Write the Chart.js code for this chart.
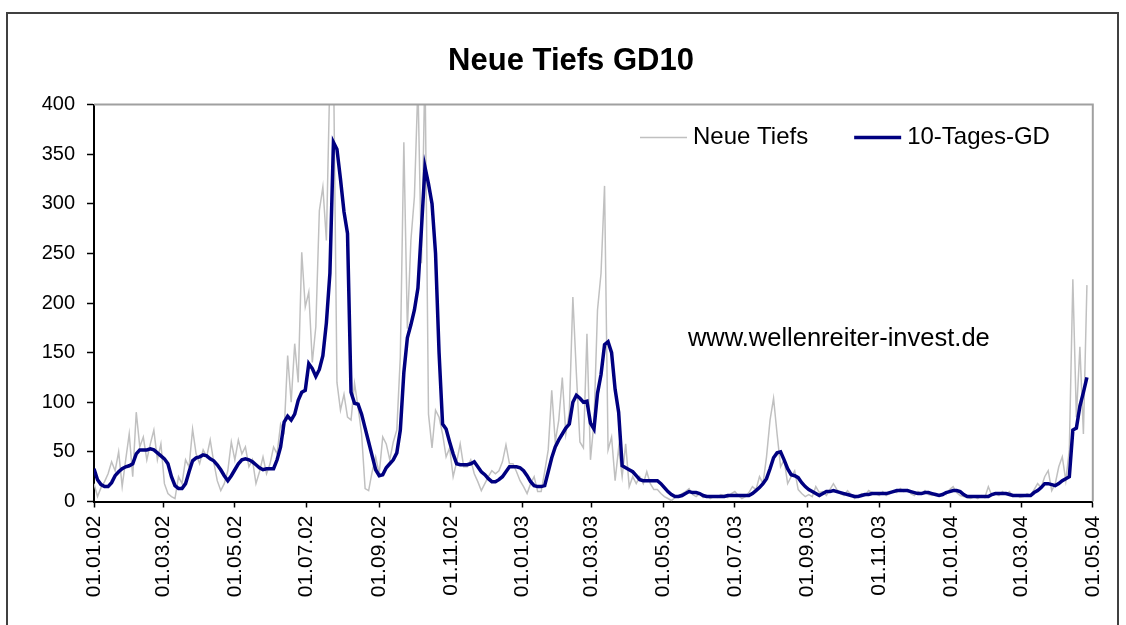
<!DOCTYPE html>
<html>
<head>
<meta charset="utf-8">
<script src="https://cdn.jsdelivr.net/npm/chart.js@4.4.1/dist/chart.umd.min.js"></script>
<style>
  html, body { margin: 0; padding: 0; background: #fff; overflow: hidden; }
  .frame { position: absolute; left: 6px; top: 12px; width: 1109px; height: 700px; border: 2px solid #404040; }
  #chart { position: absolute; left: 0; top: 0; }
</style>
</head>
<body>
<div class="frame"></div>
<canvas id="chart" width="1126" height="625"></canvas>
<script>
// x axis labels (dd.mm.yy), one every two months
const tickLabels = ['01.01.02', '01.03.02', '01.05.02', '01.07.02', '01.09.02', '01.11.02', '01.01.03',
  '01.03.03', '01.05.03', '01.07.03', '01.09.03', '01.11.03', '01.01.04', '01.03.04', '01.05.04'];

// values read every 3 days from 01.01.02
const stepDays = 3;

// Neue Tiefs (daily new lows)
const newLows = [
  18, 5, 14, 20, 28, 40, 31, 50, 15, 42,
  68, 25, 90, 55, 65, 42, 58, 72, 42, 58,
  18, 8, 5, 3, 25, 18, 42, 35, 73, 48,
  38, 52, 45, 62, 40, 21, 11, 18, 31, 60,
  42, 62, 48, 55, 35, 42, 18, 30, 45, 28,
  38, 55, 48, 78, 70, 147, 100, 159, 120, 251,
  196, 211, 140, 176, 293, 317, 263, 430, 450, 120,
  92, 108, 85, 82, 119, 95, 68, 13, 11, 30,
  45, 28, 65, 58, 42, 60, 72, 146, 362, 174,
  263, 307, 420, 240, 440, 88, 54, 92, 85, 68,
  45, 54, 25, 40, 58, 35, 35, 42, 28, 20,
  11, 18, 25, 31, 28, 31, 40, 57, 38, 38,
  30, 21, 15, 8, 18, 25, 10, 10, 30, 52,
  112, 60, 82, 125, 68, 90, 206, 129, 60, 54,
  169, 42, 80, 193, 230, 318, 52, 65, 21, 54,
  25, 58, 15, 25, 18, 25, 18, 30, 18, 12,
  12, 8, 5, 3, 1, 4, 6, 8, 10, 13,
  7, 5, 8, 4, 6, 3, 5, 4, 7, 6,
  4, 8, 10, 6, 3, 5, 9, 15, 12, 25,
  18, 45, 82, 104, 68, 35, 42, 18, 25, 31,
  12, 8, 5, 7, 5, 15, 9, 10, 6, 12,
  18, 12, 8, 6, 11, 7, 3, 5, 8, 6,
  11, 9, 8, 6, 10, 6, 8, 11, 9, 13,
  10, 12, 8, 6, 10, 8, 11, 7, 6, 8,
  6, 8, 7, 12, 15, 9, 6, 5, 4, 3,
  5, 3, 6, 4, 15, 6, 8, 6, 10, 7,
  10, 5, 7, 4, 5, 8, 6, 12, 18, 14,
  25, 31, 11, 18, 35, 45, 21, 52, 224, 85,
  156, 68, 218
];

// 10-Tages-GD (10 day average)
const avg10 = [
  33, 22, 17, 15, 15, 19, 26, 30, 33, 35,
  36, 38, 48, 52, 52, 52, 53, 52, 49, 46,
  43, 38, 25, 16, 13, 13, 18, 30, 41, 44,
  45, 47, 46, 43, 41, 37, 32, 26, 21, 26,
  32, 38, 42, 43, 42, 40, 37, 34, 32, 33,
  33, 33, 42, 55, 80, 86, 82, 88, 102, 110,
  112, 139, 134, 126, 133, 147, 180, 230, 362, 355,
  325, 292, 270, 110, 99, 98, 88, 74, 60, 46,
  32, 26, 27, 34, 38, 42, 49, 72, 130, 165,
  178, 193, 215, 275, 337, 320, 300, 250, 150, 78,
  73, 60, 48, 38, 37, 37, 37, 38, 40, 35,
  30, 27, 23, 20, 20, 22, 25, 30, 35, 35,
  35, 34, 31, 26, 20, 16, 15, 15, 16, 30,
  44, 55, 62, 68, 74, 78, 100, 107, 104, 100,
  101, 79, 73, 109, 128, 158, 161, 150, 113, 90,
  36, 34, 32, 30, 26, 22, 21, 21, 21, 21,
  21, 18, 14, 10, 7, 5, 5, 6, 8, 10,
  9, 9, 8, 6, 5, 5, 5, 5, 5, 5,
  6, 6, 6, 6, 6, 6, 6, 8, 11, 14,
  18, 23, 33, 44, 49, 50, 42, 33, 27, 26,
  24, 19, 15, 12, 10, 8, 6, 8, 10, 10,
  11, 10, 9, 8, 7, 6, 5, 5, 6, 7,
  7, 8, 8, 8, 8, 8, 9, 10, 11, 11,
  11, 11, 10, 9, 8, 8, 9, 9, 8, 7,
  6, 7, 9, 10, 11, 11, 10, 7, 5, 5,
  5, 5, 5, 5, 5, 7, 8, 8, 8, 8,
  7, 6, 6, 6, 6, 6, 6, 9, 11, 14,
  18, 18, 17, 16, 18, 21, 23, 25, 72, 74,
  96, 110, 125
];

const FONT = "'Liberation Sans', Arial, sans-serif";
const startDate = new Date(2002, 0, 1);

function dayOf(label) {
  const [d, m, y] = label.split('.').map(Number);
  return Math.round((new Date(2000 + y, m - 1, d) - startDate) / 86400000);
}

const tickDays = tickLabels.map(dayOf);
const days = newLows.map((v, i) => i * stepDays);

// grey frame on top and right of the plot
const plotFrame = {
  id: 'plotFrame',
  afterDatasetsDraw(chart) {
    const { ctx, chartArea: a } = chart;
    ctx.save();
    ctx.strokeStyle = '#a0a0a0';
    ctx.lineWidth = 2;
    ctx.beginPath();
    ctx.moveTo(a.left, a.top);
    ctx.lineTo(a.right, a.top);
    ctx.lineTo(a.right, a.bottom);
    ctx.stroke();
    ctx.restore();
  }
};

// title, legend and site name, placed like in the excel chart
const texts = {
  id: 'texts',
  afterDraw(chart) {
    const { ctx, chartArea, scales } = chart;
    ctx.save();
    ctx.fillStyle = '#000';
    ctx.textBaseline = 'middle';

    ctx.font = 'bold 31px ' + FONT;
    ctx.textAlign = 'center';
    ctx.fillText('Neue Tiefs GD10', 571, 61);

    ctx.textAlign = 'left';
    ctx.font = '24px ' + FONT;
    let x = chartArea.left + 546;
    const y = chartArea.top + 33;
    chart.data.datasets.forEach(ds => {
      ctx.strokeStyle = ds.borderColor;
      ctx.lineWidth = ds.borderWidth;
      ctx.beginPath();
      ctx.moveTo(x, y);
      ctx.lineTo(x + 47, y);
      ctx.stroke();
      x += 47 + 6;
      ctx.fillText(ds.label, x, y);
      x += ctx.measureText(ds.label).width + 46;
    });

    ctx.font = '25.5px ' + FONT;
    ctx.fillText('www.wellenreiter-invest.de', scales.x.getPixelForValue(506), scales.y.getPixelForValue(164));
    ctx.restore();
  }
};

const ctx = document.getElementById('chart');

new Chart(ctx, {
  type: 'line',
  data: {
    datasets: [
      {
        label: 'Neue Tiefs',
        data: newLows.map((v, i) => ({ x: days[i], y: v })),
        borderColor: '#c0c0c0',
        borderWidth: 1.5,
        pointRadius: 0,
        clip: 0,
        order: 1
      },
      {
        label: '10-Tages-GD',
        data: avg10.map((v, i) => ({ x: days[i], y: v })),
        borderColor: '#000080',
        borderWidth: 3.5,
        pointRadius: 0,
        clip: 0,
        order: 0
      }
    ]
  },
  options: {
    responsive: false,
    animation: false,
    layout: { padding: { left: 10, right: 33, top: 104.5, bottom: 13.5 } },
    scales: {
      x: {
        type: 'linear',
        min: 0,
        max: dayOf('01.05.04'),
        afterBuildTicks: scale => { scale.ticks = tickDays.map(v => ({ value: v })); },
        afterFit: scale => { scale.height = 110; },
        ticks: {
          autoSkip: false,
          minRotation: 90,
          maxRotation: 90,
          color: '#000',
          padding: 8,
          font: { family: FONT, size: 21 },
          callback: (v, i) => tickLabels[i]
        },
        grid: { drawOnChartArea: false, tickLength: 6, tickColor: '#000', tickWidth: 1.5 },
        border: { color: '#000', width: 2 }
      },
      y: {
        min: 0,
        max: 400,
        afterFit: scale => { scale.width = 84; },
        ticks: { stepSize: 50, color: '#000', padding: 12, font: { family: FONT, size: 20 } },
        grid: { drawOnChartArea: false, tickLength: 7, tickColor: '#000', tickWidth: 1.5 },
        border: { color: '#000', width: 2 }
      }
    },
    plugins: {
      legend: { display: false },
      tooltip: { enabled: false },
      title: { display: false }
    }
  },
  plugins: [plotFrame, texts]
});
</script>
</body>
</html>
